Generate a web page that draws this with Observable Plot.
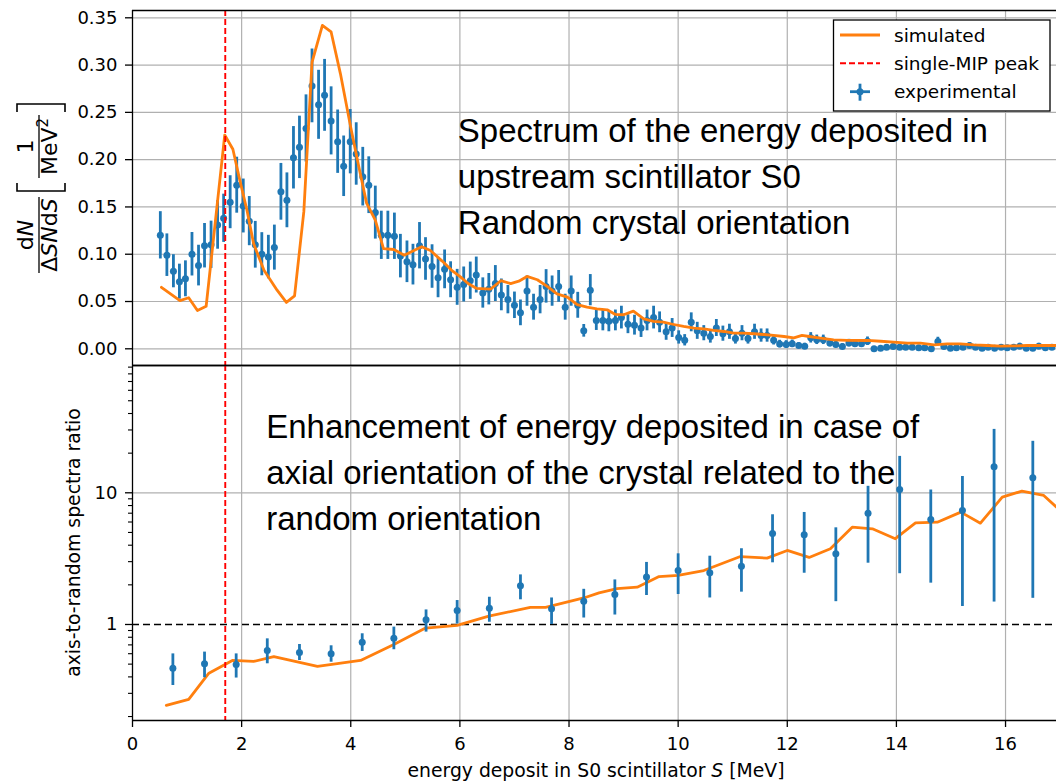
<!DOCTYPE html>
<html>
<head>
<meta charset="utf-8">
<script src="https://cdn.jsdelivr.net/npm/d3@7"></script>
<script src="https://cdn.jsdelivr.net/npm/@observablehq/plot@0.6"></script>
<style>
  html, body { margin: 0; padding: 0; background: #fff; overflow: hidden; }
  #chart svg { display: block; }
</style>
</head>
<body>
<div id="chart"></div>
<script>
// ---------- Energy spectrum in S0, random crystal orientation ----------
// bin centres [MeV]
const specE = [0.51,0.63,0.75,0.86,0.97,1.09,1.21,1.32,1.44,1.56,
  1.67,1.79,1.91,2.03,2.14,2.25,2.37,2.49,2.60,2.72,
  2.83,2.95,3.06,3.18,3.29,3.41,3.52,3.64,3.76,3.87,
  3.99,4.10,4.22,4.33,4.45,4.56,4.68,4.80,4.91,5.03,
  5.14,5.26,5.37,5.49,5.60,5.72,5.83,5.95,6.07,6.19,
  6.30,6.42,6.53,6.65,6.76,6.88,7.00,7.11,7.23,7.35,
  7.47,7.58,7.69,7.81,7.93,8.04,8.16,8.27,8.39,8.50,
  8.62,8.73,8.85,8.96,9.08,9.20,9.32,9.43,9.55,9.66,
  9.78,9.89,10.01,10.12,10.24,10.35,10.47,10.59,10.70,10.82,
  10.94,11.05,11.17,11.28,11.40,11.52,11.63,11.75,11.86,11.98,
  12.09,12.21,12.32,12.43,12.54,12.66,12.78,12.89,13.01,13.13,
  13.24,13.36,13.47,13.59,13.71,13.82,13.94,14.06,14.17,14.29,
  14.41,14.52,14.64,14.76,14.87,14.99,15.10,15.22,15.34,15.45,
  15.57,15.68,15.80,15.92,16.03,16.15,16.26,16.38,16.50,16.61,
  16.73,16.85];
// measured dN/(ΔS N dS) [1/MeV^2]
const specN = [0.120,0.099,0.082,0.071,0.074,0.100,0.088,0.109,0.110,0.131,
  0.138,0.155,0.173,0.151,0.135,0.110,0.100,0.097,0.107,0.166,
  0.157,0.202,0.213,0.233,0.278,0.258,0.268,0.241,0.219,0.193,
  0.219,0.206,0.182,0.173,0.144,0.120,0.120,0.119,0.098,0.092,
  0.089,0.109,0.095,0.087,0.075,0.084,0.073,0.065,0.068,0.072,
  0.078,0.059,0.063,0.069,0.057,0.052,0.046,0.038,0.061,0.044,
  0.052,0.066,0.061,0.066,0.044,0.061,0.046,0.019,0.062,0.030,
  0.030,0.029,0.030,0.033,0.026,0.025,0.022,0.030,0.033,0.028,
  0.018,0.022,0.012,0.009,0.028,0.019,0.0165,0.013,0.022,0.016,
  0.018,0.011,0.0165,0.011,0.018,0.014,0.014,0.009,0.005,0.0046,
  0.0053,0.0035,0.0028,0.0116,0.0095,0.0095,0.006,0.0045,0.0024,0.006,
  0.0053,0.0053,0.008,0.0,0.0007,0.0017,0.0024,0.0017,0.0017,0.0017,
  0.001,0.001,0.0,0.0077,0.0024,0.0007,0.001,0.0017,0.0035,0.0017,
  0.0007,0.0017,0.0007,0.0017,0.001,0.0017,0.0028,0.0007,0.0007,0.0028,
  0.001,0.0017];
// statistical uncertainty of each bin
const specErr = [0.025,0.0225,0.0175,0.0185,0.019,0.023,0.0215,0.0235,0.025,0.0257,
  0.0255,0.028,0.0296,0.0285,0.026,0.0247,0.0228,0.023,0.0238,0.030,
  0.029,0.033,0.033,0.0355,0.039,0.0365,0.038,0.036,0.0335,0.032,
  0.034,0.033,0.031,0.030,0.028,0.0255,0.0255,0.0245,0.023,0.022,
  0.0215,0.0245,0.0225,0.023,0.021,0.0205,0.019,0.019,0.0185,0.0197,
  0.019,0.016,0.0166,0.019,0.0168,0.015,0.014,0.0136,0.016,0.0137,
  0.015,0.0177,0.016,0.0168,0.0137,0.016,0.0137,0.0067,0.0165,0.0106,
  0.011,0.011,0.011,0.012,0.010,0.0105,0.010,0.011,0.012,0.011,
  0.009,0.010,0.007,0.006,0.010,0.009,0.008,0.007,0.009,0.008,
  0.008,0.006,0.008,0.006,0.008,0.007,0.007,0.005,0.004,0.004,
  0.004,0.003,0.003,0.0055,0.005,0.005,0.004,0.0035,0.003,0.004,
  0.0035,0.0035,0.0045,0.002,0.002,0.0025,0.003,0.0025,0.0025,0.0025,
  0.002,0.002,0.002,0.0045,0.003,0.002,0.002,0.0025,0.003,0.0025,
  0.002,0.0025,0.002,0.0025,0.002,0.0025,0.003,0.002,0.002,0.003,
  0.002,0.0025];

// simulated spectrum
const simSpecE = [0.53,0.87,1.03,1.19,1.35,1.69,1.84,1.96,2.10,2.22,
  2.41,2.65,2.82,2.97,3.14,3.29,3.48,3.64,3.81,4.00,
  4.15,4.29,4.45,4.60,4.79,4.98,5.30,5.46,5.67,5.85,
  6.01,6.15,6.30,6.56,6.75,6.93,7.08,7.23,7.42,7.60,
  7.78,7.97,8.15,8.33,8.51,8.70,8.85,9.00,9.18,9.37,
  9.55,9.73,9.92,10.10,10.29,10.47,10.65,10.84,11.02,11.20,
  11.39,11.57,11.75,11.94,12.12,12.27,12.40,12.61,12.85,13.10,
  13.47,13.71,13.95,14.20,14.44,14.69,14.93,15.17,15.42,15.66,
  15.91,16.15,16.40,16.64,16.93];
const simSpecN = [0.065,0.051,0.054,0.0405,0.045,0.226,0.211,0.180,0.146,0.111,
  0.083,0.062,0.049,0.056,0.145,0.303,0.342,0.335,0.291,0.234,
  0.192,0.154,0.136,0.106,0.105,0.099,0.108,0.104,0.093,0.083,
  0.076,0.069,0.064,0.063,0.072,0.069,0.0715,0.0765,0.073,0.066,
  0.058,0.0546,0.0468,0.044,0.0423,0.0412,0.0363,0.036,0.0398,0.0317,
  0.0289,0.0281,0.0257,0.0236,0.0218,0.0211,0.0194,0.0183,0.0165,0.0165,
  0.0159,0.0151,0.0141,0.013,0.0116,0.0141,0.013,0.0112,0.0095,0.009,
  0.0088,0.008,0.007,0.006,0.006,0.0042,0.0053,0.0053,0.0042,0.0035,
  0.0028,0.003,0.0035,0.0035,0.0035];

// ---------- axial / random ratio ----------
const ratioE = [0.74,1.32,1.90,2.47,3.06,3.64,4.21,4.79,5.38,5.95,
  6.54,7.11,7.68,8.27,8.84,9.42,10.00,10.58,11.16,11.73,
  12.31,12.89,13.48,14.06,14.63,15.21,15.79,16.50];
const ratio = [0.466,0.503,0.497,0.635,0.613,0.599,0.734,0.787,1.086,1.277,
  1.33,1.97,1.316,1.50,1.69,2.29,2.57,2.47,2.77,4.91,
  4.80,3.44,7.0,10.6,6.27,7.34,15.8,13.0];
const ratioLo = [0.344,0.394,0.392,0.503,0.533,0.517,0.624,0.643,0.875,1.01,
  1.04,1.54,1.0,1.12,1.18,1.66,1.69,1.59,1.76,2.94,
  2.45,1.49,2.92,2.43,2.06,1.37,1.48,1.58];
const ratioHi = [0.598,0.617,0.598,0.778,0.705,0.689,0.85,0.955,1.29,1.52,
  1.61,2.38,1.59,1.85,2.18,2.96,3.44,3.30,3.76,6.81,
  7.09,5.42,11.2,18.9,10.5,13.3,30.3,24.6];

const simRatioE = [0.62,1.03,1.40,1.83,2.22,2.59,3.39,4.18,4.79,5.37,
  5.95,6.53,7.29,7.57,8.27,8.55,8.88,9.25,9.65,10.00,
  10.47,11.14,11.63,12.00,12.40,12.79,13.19,13.56,13.98,14.35,
  14.75,15.18,15.54,15.94,16.30,16.70,16.93];
const simRatio = [0.243,0.27,0.427,0.533,0.524,0.571,0.48,0.533,0.705,0.94,
  0.983,1.156,1.35,1.35,1.59,1.74,1.87,1.92,2.31,2.36,
  2.57,3.28,3.19,3.65,3.23,3.76,5.48,5.33,4.48,5.92,
  5.98,7.13,5.88,9.27,10.3,9.55,7.8];

// single-MIP peak position [MeV]
const mipPeak = [1.7];

// axis ticks
const xTicks = [0, 2, 4, 6, 8, 10, 12, 14, 16];
const specTicks = [0, 0.05, 0.10, 0.15, 0.20, 0.25, 0.30, 0.35];
const ratioTicks = [1, 10];
const ratioMinor = [0.2,0.3,0.4,0.5,0.6,0.7,0.8,0.9,2,3,4,5,6,7,8,9,20,30,40,50,60,70,80,90];

const legendLabels = ["simulated", "single-MIP peak", "experimental"];
const specNote = "Spectrum of the energy deposited in\nupstream scintillator S0\nRandom crystal orientation";
const ratioNote = "Enhancement of energy deposited in case of\naxial orientation of the crystal related to the\nrandom orientation";

// ---------- tables ----------
const spec = specE.map((e, i) => ({e, n: specN[i], lo: specN[i] - specErr[i], hi: specN[i] + specErr[i]}));
const simSpec = simSpecE.map((e, i) => ({e, n: simSpecN[i]}));
const ratioData = ratioE.map((e, i) => ({e, r: ratio[i], lo: ratioLo[i], hi: ratioHi[i]}));
const simRatioData = simRatioE.map((e, i) => ({e, r: simRatio[i]}));

// ---------- styling ----------
const BLUE = "#1f77b4", ORANGE = "#ff7f0e", RED = "#ff0000", GRID = "#b0b0b0";
const W = 1056;
const xDomain = [0, 16.934];
const specDomain = [-0.01766, 0.35772];
const ratioDomain = [0.1866, 92.6];
const tickFont = 18, labelFont = 18.8;
const baseStyle = {fontFamily: "DejaVu Sans", fontSize: tickFont + "px", color: "#000", background: "#fff", overflow: "visible"};

// ---------- top panel ----------
const topPlot = Plot.plot({
  width: W, height: 365,
  marginTop: 10, marginBottom: 0, marginLeft: 132, marginRight: 0,
  style: baseStyle,
  x: {domain: xDomain, axis: null},
  y: {domain: specDomain, axis: null},
  marks: [
    Plot.ruleX(xTicks.slice(1), {stroke: GRID, strokeWidth: 1.2}),
    Plot.ruleY(specTicks, {stroke: GRID, strokeWidth: 1.2}),
    Plot.text([specNote], {x: 5.962, y: 0.1216, textAnchor: "start", lineAnchor: "bottom",
      lineHeight: 1.388, fontSize: 33, fontFamily: "Liberation Sans", fill: "#000"}),
    Plot.ruleX(spec, {x: "e", y1: "lo", y2: "hi", stroke: BLUE, strokeWidth: 2.8}),
    Plot.dot(spec, {x: "e", y: "n", r: 3.5, fill: BLUE}),
    Plot.line(simSpec, {x: "e", y: "n", stroke: ORANGE, strokeWidth: 2.8}),
    Plot.ruleX(mipPeak, {stroke: RED, strokeWidth: 1.9, strokeDasharray: "6,3"}),
    Plot.axisY(specTicks, {anchor: "left", tickSize: 7, tickPadding: 8, strokeWidth: 1.3,
      tickFormat: d3.format(".2f"), label: null, fontSize: tickFont}),
    Plot.ruleX([xDomain[0]], {stroke: "#000", strokeWidth: 1.3}),
    Plot.ruleY([specDomain[0], specDomain[1]], {stroke: "#000", strokeWidth: 1.3})
  ]
});

// ---------- bottom panel ----------
const bottomPlot = Plot.plot({
  width: W, height: 416,
  marginTop: 0, marginBottom: 61, marginLeft: 132, marginRight: 0,
  style: baseStyle,
  x: {domain: xDomain, axis: null},
  y: {type: "log", domain: ratioDomain, axis: null},
  marks: [
    Plot.ruleX(xTicks.slice(1), {stroke: GRID, strokeWidth: 1.2}),
    Plot.ruleY([10], {stroke: GRID, strokeWidth: 1.2}),
    Plot.ruleY([1], {stroke: "#000", strokeWidth: 1.5, strokeDasharray: "7,4"}),
    Plot.text([ratioNote], {x: 2.45, y: 5.24, textAnchor: "start", lineAnchor: "bottom",
      lineHeight: 1.394, fontSize: 33, fontFamily: "Liberation Sans", fill: "#000"}),
    Plot.line(simRatioData, {x: "e", y: "r", stroke: ORANGE, strokeWidth: 2.8}),
    Plot.ruleX(ratioData, {x: "e", y1: "lo", y2: "hi", stroke: BLUE, strokeWidth: 2.8}),
    Plot.dot(ratioData, {x: "e", y: "r", r: 3.5, fill: BLUE}),
    Plot.ruleX(mipPeak, {stroke: RED, strokeWidth: 1.9, strokeDasharray: "6,3"}),
    Plot.axisX(xTicks, {anchor: "bottom", tickSize: 7, tickPadding: 10, strokeWidth: 1.3,
      tickFormat: d => String(d), label: null, fontSize: tickFont}),
    Plot.axisY(ratioTicks, {anchor: "left", tickSize: 7, tickPadding: 8, strokeWidth: 1.3,
      tickFormat: d => String(d), label: null, fontSize: tickFont}),
    Plot.axisY(ratioMinor.filter(v => v > ratioDomain[0] && v < ratioDomain[1]),
      {anchor: "left", tickSize: 4, strokeWidth: 1.1, tickFormat: () => "", label: null}),
    Plot.ruleX([xDomain[0]], {stroke: "#000", strokeWidth: 1.3}),
    Plot.ruleY([ratioDomain[0], ratioDomain[1]], {stroke: "#000", strokeWidth: 1.3})
  ]
});

const chart = document.getElementById("chart");
chart.appendChild(topPlot);
chart.appendChild(bottomPlot);

// ---------- y label of the spectrum: dN/(ΔS N dS) [1/MeV²] ----------
{
  const g = d3.select(topPlot).append("g")
    .attr("transform", "translate(39,188) rotate(-90)")
    .attr("font-family", "DejaVu Sans").attr("font-size", 22).attr("fill", "#000");
  const frac = (cx, u0, u1, num, den) => {
    const t1 = g.append("text").attr("x", cx).attr("y", -6).attr("text-anchor", "middle");
    num.forEach(([s, it, sup]) => t1.append("tspan").attr("font-style", it ? "italic" : "normal").text(s));
    g.append("line").attr("x1", u0).attr("x2", u1).attr("y1", 0).attr("y2", 0)
      .attr("stroke", "#000").attr("stroke-width", 1.3);
    const t2 = g.append("text").attr("x", cx).attr("y", 18).attr("text-anchor", "middle");
    den.forEach(([s, it, sup]) => {
      const ts = t2.append("tspan").attr("font-style", it ? "italic" : "normal").text(s);
      if (sup) ts.attr("font-size", 15).attr("dy", -9);
    });
  };
  frac(-47, -85, -9, [["d"], ["N", true]], [["Δ"], ["S", true], ["N", true], ["d"], ["S", true]]);
  frac(41.5, 10, 73, [["1"]], [["MeV"], ["2", false, true]]);
  const br = d3.path();
  br.moveTo(5, -22); br.lineTo(-3, -22); br.lineTo(-3, 26); br.lineTo(5, 26);
  br.moveTo(76, -22); br.lineTo(84, -22); br.lineTo(84, 26); br.lineTo(76, 26);
  g.append("path").attr("d", br.toString()).attr("fill", "none").attr("stroke", "#000").attr("stroke-width", 1.6);
}

// ---------- legend ----------
{
  const g = d3.select(topPlot).append("g")
    .attr("font-family", "DejaVu Sans").attr("font-size", 18.5).attr("fill", "#000")
    .attr("text-anchor", "start");
  g.append("rect").attr("x", 833.5).attr("y", 20).attr("width", 216.5).attr("height", 91)
    .attr("fill", "#fff").attr("stroke", "#000").attr("stroke-width", 1.3);
  const rows = [35, 63.3, 91.7];
  g.append("line").attr("x1", 840).attr("x2", 880).attr("y1", rows[0]).attr("y2", rows[0])
    .attr("stroke", ORANGE).attr("stroke-width", 2.8);
  g.append("line").attr("x1", 840).attr("x2", 880).attr("y1", rows[1]).attr("y2", rows[1])
    .attr("stroke", RED).attr("stroke-width", 1.9).attr("stroke-dasharray", "6,3");
  g.append("line").attr("x1", 860).attr("x2", 860).attr("y1", rows[2] - 8).attr("y2", rows[2] + 9)
    .attr("stroke", BLUE).attr("stroke-width", 2.8);
  g.append("line").attr("x1", 850).attr("x2", 870).attr("y1", rows[2]).attr("y2", rows[2])
    .attr("stroke", BLUE).attr("stroke-width", 2.8);
  g.append("circle").attr("cx", 860).attr("cy", rows[2]).attr("r", 3.5).attr("fill", BLUE);
  legendLabels.forEach((s, i) => g.append("text").attr("x", 894).attr("y", rows[i])
    .attr("dy", "0.36em").attr("text-anchor", "start").text(s));
}

// ---------- axis titles of the ratio panel ----------
{
  const svg = d3.select(bottomPlot);
  const xl = svg.append("text").attr("x", 596).attr("y", 412).attr("text-anchor", "middle")
    .attr("font-family", "DejaVu Sans").attr("font-size", labelFont).attr("fill", "#000");
  xl.append("tspan").text("energy deposit in S0 scintillator ");
  xl.append("tspan").attr("font-style", "italic").text("S");
  xl.append("tspan").text(" [MeV]");
  svg.append("text").attr("transform", "translate(80,177.5) rotate(-90)").attr("text-anchor", "middle")
    .attr("font-family", "DejaVu Sans").attr("font-size", labelFont).attr("fill", "#000")
    .text("axis-to-random spectra ratio");
}
</script>
</body>
</html>
